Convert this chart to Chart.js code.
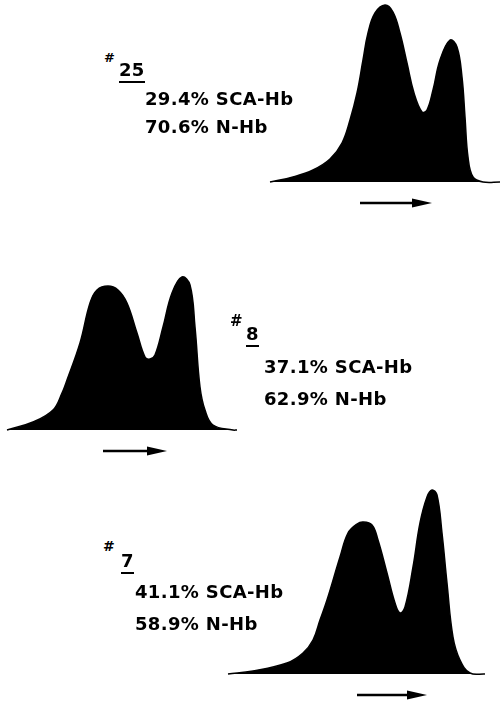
<!DOCTYPE html>
<html>
<head>
<meta charset="utf-8">
<script src="https://cdn.jsdelivr.net/npm/chart.js@4"></script>
<style>
  html, body { margin: 0; padding: 0; background: #fff; }
  body { position: relative; width: 502px; height: 704px; overflow: hidden; }
  canvas { position: absolute; }
  .lbl { position: absolute; font-family: "DejaVu Sans", sans-serif; font-weight: bold;
         font-size: 18px; line-height: 18px; color: #000; white-space: nowrap; letter-spacing: 0.35px; }
  .hash { position: absolute; font-family: "DejaVu Sans", sans-serif; font-weight: bold;
          font-size: 13px; line-height: 13px; color: #000; }
  .num { border-bottom: 2px solid #000; padding-bottom: 1px; }
</style>
</head>
<body>
<canvas id="trace25"></canvas>
<canvas id="trace8"></canvas>
<canvas id="trace7"></canvas>

<div class="hash" style="left:104px; top:51px;">#</div>
<div class="lbl" style="left:119px; top:61px;"><span class="num">25</span></div>
<div class="lbl" style="left:145px; top:90px;">29.4% SCA-Hb</div>
<div class="lbl" style="left:145px; top:118px;">70.6% N-Hb</div>

<div class="hash" style="left:230px; top:315px; font-size:15px;">#</div>
<div class="lbl" style="left:246px; top:325px;"><span class="num">8</span></div>
<div class="lbl" style="left:264px; top:358px;">37.1% SCA-Hb</div>
<div class="lbl" style="left:264px; top:390px;">62.9% N-Hb</div>

<div class="hash" style="left:103px; top:540px; font-size:14px;">#</div>
<div class="lbl" style="left:121px; top:552px;"><span class="num">7</span></div>
<div class="lbl" style="left:135px; top:583px;">41.1% SCA-Hb</div>
<div class="lbl" style="left:135px; top:615px;">58.9% N-Hb</div>

<script>
// migration distance (px from start of trace) and density (px above baseline)
const dist25 = [0, 23, 43, 60, 72, 80, 87, 93, 98, 105, 115, 123, 130, 137, 144, 152, 157, 163, 170, 180, 187, 192, 195, 198, 203, 213, 230];
const dens25 = [0, 5, 12, 23, 39, 62, 89, 122, 149, 169, 177, 170, 149, 119, 89, 70, 72, 92, 122, 142, 135, 105, 65, 25, 5, 0, 0];

const dist8 = [0, 26, 46, 55, 60, 73, 83, 90, 101, 111, 120, 130, 138, 143, 148, 156, 165, 175, 183, 188, 193, 198, 206, 226, 230];
const dens8 = [0, 8, 20, 37, 50, 87, 127, 140, 144, 140, 127, 97, 73, 71, 75, 103, 137, 153, 145, 103, 43, 20, 5, 0, 0];

const dist7 = [0, 25, 59, 75, 85, 92, 99, 112, 120, 129, 135, 144, 150, 159, 167, 172, 177, 185, 192, 199, 204, 209, 214, 219, 225, 232, 242, 257];
const dens7 = [0, 3, 11, 21, 34, 54, 74, 117, 141, 150, 152, 149, 134, 101, 71, 61, 67, 107, 151, 177, 184, 179, 141, 91, 37, 14, 1, 0];

// direction-of-migration arrows (start, end along the distance axis)
const arrow25 = [90, 162];
const arrow8 = [96, 160];
const arrow7 = [129, 199];

const arrowPlugin = {
    id: "arrow",
    afterDatasetsDraw(chart, args, opts) {
        const ctx = chart.ctx;
        const x0 = chart.scales.x.getPixelForValue(opts.from);
        const x1 = chart.scales.x.getPixelForValue(opts.to);
        const y = chart.scales.y.getPixelForValue(opts.level);
        ctx.save();
        ctx.strokeStyle = "#000";
        ctx.fillStyle = "#000";
        ctx.lineWidth = 2.5;
        ctx.beginPath();
        ctx.moveTo(x0, y);
        ctx.lineTo(x1 - 10, y);
        ctx.stroke();
        ctx.beginPath();
        ctx.moveTo(x1, y);
        ctx.lineTo(x1 - 20, y - 4.5);
        ctx.lineTo(x1 - 20, y + 4.5);
        ctx.closePath();
        ctx.fill();
        ctx.restore();
    }
};

// left/top of the trace origin on the page
function makeTrace(id, originLeft, originTop, xs, ys, arrow) {
    const top = 190, below = 35, side = 10;
    const maxX = xs[xs.length - 1];
    const canvas = document.getElementById(id);
    canvas.width = maxX + side * 2;
    canvas.height = top + below;
    canvas.style.left = (originLeft - side) + "px";
    canvas.style.top = (originTop - top) + "px";

    new Chart(canvas.getContext("2d"), {
        type: "line",
        data: {
            datasets: [{
                data: xs.map((x, i) => ({ x: x, y: ys[i] })),
                borderColor: "#000",
                backgroundColor: "#000",
                borderWidth: 1.5,
                fill: "origin",
                pointRadius: 0,
                tension: 0.4
            }]
        },
        options: {
            responsive: false,
            animation: false,
            layout: { padding: 0 },
            plugins: {
                legend: { display: false },
                tooltip: { enabled: false },
                arrow: { from: arrow[0], to: arrow[1], level: -21 }
            },
            scales: {
                x: { type: "linear", display: false, min: -side, max: maxX + side },
                y: { type: "linear", display: false, min: -below, max: top }
            }
        },
        plugins: [arrowPlugin]
    });
}

makeTrace("trace25", 270, 182, dist25, dens25, arrow25);
makeTrace("trace8", 7, 430, dist8, dens8, arrow8);
makeTrace("trace7", 228, 674, dist7, dens7, arrow7);
</script>
</body>
</html>
